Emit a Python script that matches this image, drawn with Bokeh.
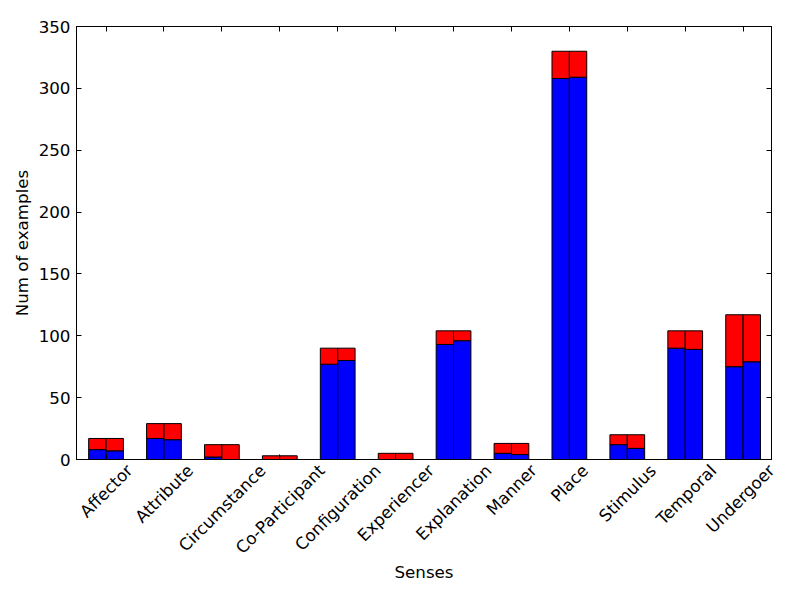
import numpy as np
from math import pi
from bokeh.plotting import figure
from bokeh.models import (ColumnDataSource, LinearAxis, FixedTicker, Range1d,
                          CustomLabelingPolicy)
from bokeh.embed import file_html
from bokeh.resources import INLINE

# ---------------- data ----------------
senses = ["Affector", "Attribute", "Circumstance", "Co-Participant", "Configuration",
          "Experiencer", "Explanation", "Manner", "Place", "Stimulus", "Temporal", "Undergoer"]
blue_left = [8, 17, 2, 0, 77, 0, 93, 5, 308, 12, 90, 75]
red_left = [9, 12, 10, 3, 13, 5, 11, 8, 22, 8, 14, 42]
blue_right = [7, 16, 0, 0, 80, 0, 96, 4, 309, 9, 89, 79]
red_right = [10, 13, 12, 3, 10, 5, 8, 9, 21, 11, 15, 38]
y_ticks = [0, 50, 100, 150, 200, 250, 300, 350]

FONT = "DejaVu Sans"
FS_PX = 16.7
FS = "16.7px"

# approximate DejaVu Sans advance widths (units per em = 2048) for label centring
ADV = {' ': 651, '-': 739, 'A': 1401, 'C': 1430, 'E': 1294, 'M': 1767, 'P': 1235,
       'S': 1300, 'T': 1251, 'U': 1499, 'a': 1255, 'b': 1300, 'c': 1126, 'd': 1300,
       'e': 1260, 'f': 721, 'g': 1300, 'h': 1298, 'i': 569, 'l': 569, 'm': 1995,
       'n': 1298, 'o': 1253, 'p': 1300, 'r': 842, 's': 1067, 't': 803, 'u': 1298,
       'x': 1212}

idx = np.arange(len(senses))
bar_w = 0.3
x0, x1 = -0.51, 11.49
frame_w = 695
px_per_unit = frame_w / (x1 - x0)

def text_len(s):
    return sum(ADV.get(ch, 1250) for ch in s) / 2048 * FS_PX

# matplotlib-style centred rotated labels -> right end shifted by half rotated width
label_pos = [round(min(float(i + text_len(s) * np.cos(pi / 4) / 2 / px_per_unit), x1 - 0.002), 4)
             for i, s in zip(idx, senses)]

bl = np.array(blue_left); rl = np.array(red_left)
br = np.array(blue_right); rr = np.array(red_right)

src_l = ColumnDataSource(dict(x=idx - bar_w / 2, blue=bl, top=bl + rl))
src_r = ColumnDataSource(dict(x=idx + bar_w / 2, blue=br, top=br + rr))

p = figure(width=800, height=600, x_range=Range1d(x0, x1), y_range=Range1d(0, 350),
           output_backend="svg", toolbar_location=None,
           min_border_left=76, min_border_right=29, min_border_top=26, min_border_bottom=141)
p.background_fill_color = "white"
p.border_fill_color = "white"
p.outline_line_color = "black"
p.outline_line_width = 1
p.xgrid.visible = False
p.ygrid.visible = False

for src in (src_l, src_r):
    p.vbar(x="x", width=bar_w, bottom=0, top="blue", source=src,
           fill_color="#0000ff", line_color="black", line_width=1)
    p.vbar(x="x", width=bar_w, bottom="blue", top="top", source=src,
           fill_color="#ff0000", line_color="black", line_width=1)

no_labels = CustomLabelingPolicy(code="return new Set()")

# y axis (left)
ya = p.yaxis[0]
ya.ticker = FixedTicker(ticks=y_ticks)
ya.major_tick_in = 5
ya.major_tick_out = 0
ya.minor_tick_line_color = None
ya.major_label_standoff = 6
ya.major_label_text_font = FONT
ya.major_label_text_font_size = FS
ya.major_label_text_color = "black"
ya.axis_label = "Num of examples"
ya.axis_label_text_font = FONT
ya.axis_label_text_font_size = FS
ya.axis_label_text_font_style = "normal"
ya.axis_label_text_color = "black"
ya.axis_label_standoff = 4
ya.axis_line_color = "black"

# x axis (bottom): ticks only
xa = p.xaxis[0]
xa.ticker = FixedTicker(ticks=list(idx))
xa.major_tick_in = 5
xa.major_tick_out = 0
xa.minor_tick_line_color = None
xa.major_label_text_font_size = "0px"
xa.major_label_standoff = 0
xa.major_label_policy = no_labels
xa.axis_line_color = "black"

# x labels axis
xl = LinearAxis(ticker=FixedTicker(ticks=label_pos),
                major_label_overrides={pos: s for pos, s in zip(label_pos, senses)},
                major_label_orientation=pi / 4,
                major_tick_line_color=None, minor_tick_line_color=None,
                axis_line_color=None,
                major_label_standoff=2,
                major_label_text_font=FONT, major_label_text_font_size=FS,
                major_label_text_color="black",
                axis_label="Senses", axis_label_text_font=FONT,
                axis_label_text_font_size=FS, axis_label_text_font_style="normal",
                axis_label_text_color="black",
                axis_label_standoff=-6)
p.add_layout(xl, "below")

# top & right axes: inward ticks, no labels
xt = LinearAxis(ticker=FixedTicker(ticks=list(idx)), major_tick_in=5, major_tick_out=0,
                minor_tick_line_color=None, major_label_text_font_size="0px",
                major_label_standoff=0, major_label_policy=no_labels,
                axis_line_color="black")
p.add_layout(xt, "above")
yr = LinearAxis(ticker=FixedTicker(ticks=y_ticks), major_tick_in=5, major_tick_out=0,
                minor_tick_line_color=None, major_label_text_font_size="0px",
                major_label_standoff=0, major_label_policy=no_labels,
                axis_line_color="black")
p.add_layout(yr, "right")

open("out.html", "w").write(file_html(p, INLINE))
